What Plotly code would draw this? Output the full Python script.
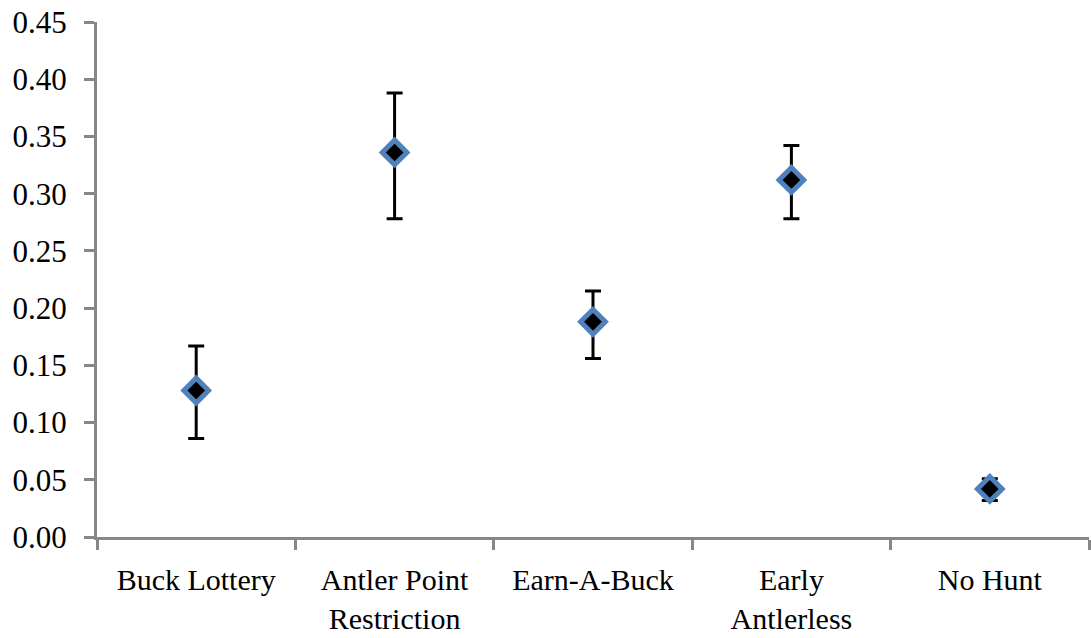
import plotly.graph_objects as go

# Harvest strategies and estimated rates with confidence limits
categories = ["Buck Lottery", "Antler Point<br>Restriction", "Earn-A-Buck",
              "Early<br>Antlerless", "No Hunt"]
estimate = [0.128, 0.336, 0.188, 0.312, 0.042]
upper_ci = [0.167, 0.388, 0.215, 0.342, 0.051]
lower_ci = [0.086, 0.278, 0.156, 0.278, 0.032]

y_ticks = [0.00, 0.05, 0.10, 0.15, 0.20, 0.25, 0.30, 0.35, 0.40, 0.45]

err_plus = [u - m for u, m in zip(upper_ci, estimate)]
err_minus = [m - l for m, l in zip(estimate, lower_ci)]

AXIS_GREY = "#878787"
FONT = dict(family="Times New Roman, Liberation Serif, Tinos, serif", size=31, color="black")
X_FONT = dict(FONT, size=30)

fig = go.Figure(
    go.Scatter(
        x=categories,
        y=estimate,
        mode="markers",
        marker=dict(symbol="diamond", size=19, color="black",
                    line=dict(color="#4F81BD", width=5)),
        error_y=dict(type="data", symmetric=False, array=err_plus,
                     arrayminus=err_minus, color="black", thickness=3, width=8),
        showlegend=False,
    )
)

fig.update_layout(
    width=1091,
    height=638,
    margin=dict(l=97, r=2, t=22, b=101, autoexpand=False),
    paper_bgcolor="white",
    plot_bgcolor="white",
    font=FONT,
)

fig.update_xaxes(
    type="category",
    range=[-0.5, 4.5],
    automargin=False,
    showline=True,
    linecolor=AXIS_GREY,
    linewidth=3,
    showgrid=False,
    zeroline=False,
    ticks="outside",
    tickson="boundaries",
    ticklen=10,
    tickwidth=3,
    tickcolor=AXIS_GREY,
    ticklabelstandoff=14,
    tickfont=X_FONT,
)

fig.update_yaxes(
    range=[0, 0.45],
    automargin=False,
    tickvals=y_ticks,
    ticktext=[f"{v:.2f}" for v in y_ticks],
    showline=True,
    linecolor=AXIS_GREY,
    linewidth=3,
    showgrid=False,
    zeroline=False,
    ticks="outside",
    ticklen=10,
    tickwidth=3,
    tickcolor=AXIS_GREY,
    ticklabelstandoff=11,
    tickfont=FONT,
)

fig.write_html("out.html")
